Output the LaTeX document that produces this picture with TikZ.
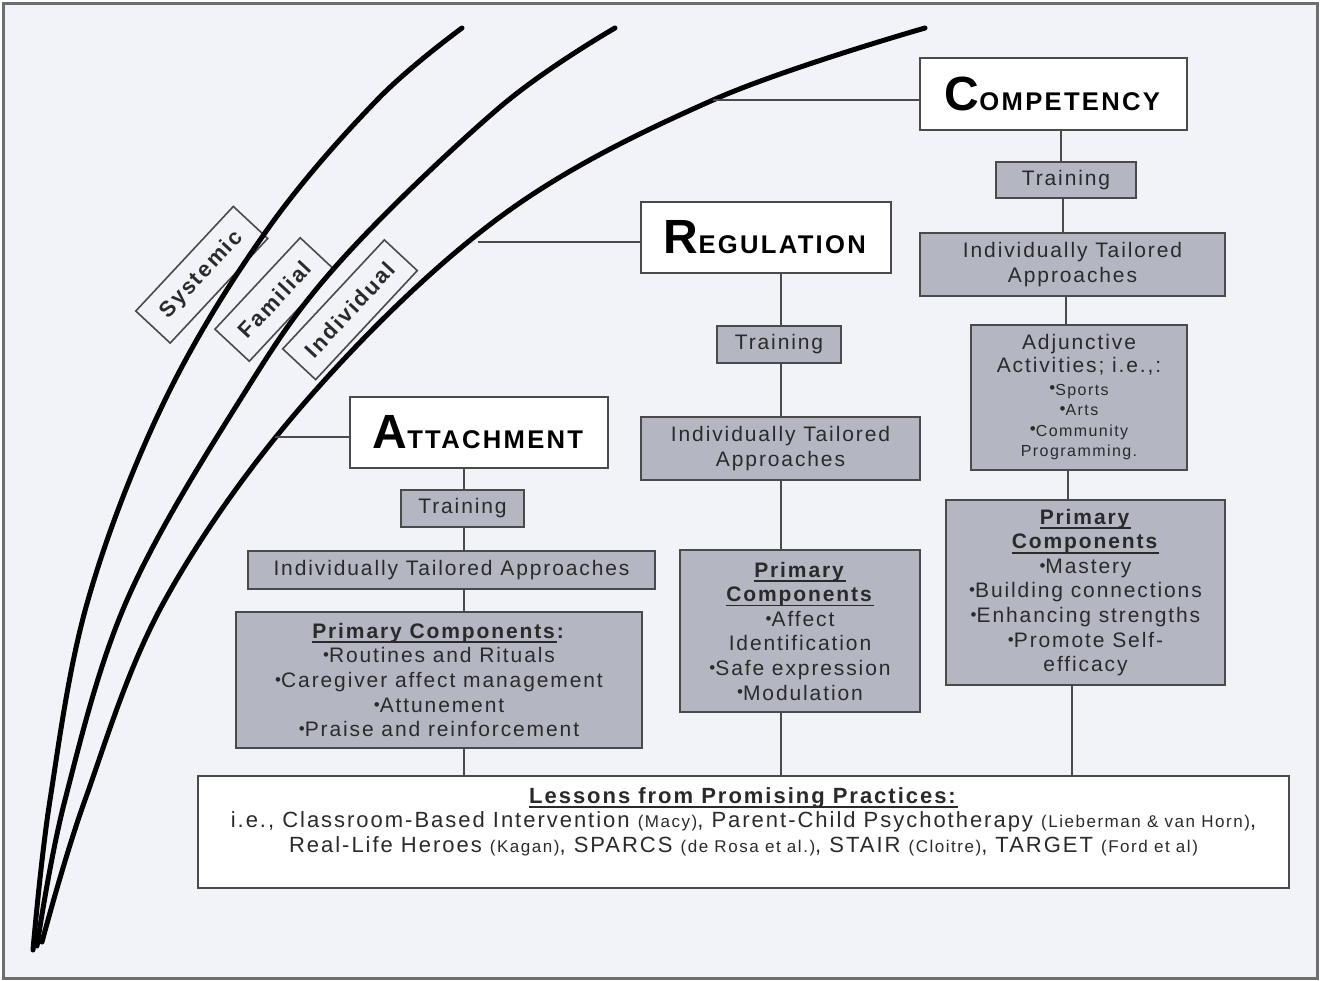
\documentclass[tikz,border=0pt]{standalone}
\usepackage{fontspec}
\setmainfont{Liberation Sans}[LetterSpace=9]
\definecolor{bg}{HTML}{F2F3F8}
\definecolor{boxg}{HTML}{B4B7C1}
\definecolor{bord}{HTML}{4A4A4A}
\definecolor{txt}{HTML}{2A2A2A}
\definecolor{framec}{HTML}{6E6E6E}
\newsavebox\ulbox
\newcommand\ul[1]{\sbox\ulbox{#1}\rlap{\rule[-2.4pt]{\wd\ulbox}{0.9pt}}\usebox\ulbox}
\newcommand\bul{\raisebox{0.1em}{\fontsize{8.5pt}{8.5pt}\selectfont •}}
\newcommand\ttl[2]{\textbf{\fontsize{24pt}{24pt}\selectfont #1\fontsize{12.8pt}{12.8pt}\selectfont #2}}
\newcommand\sm[1]{{\fontsize{8.5pt}{9pt}\selectfont #1}}
\newcommand\smf{\fontsize{8pt}{10.5pt}\selectfont}
\begin{document}
\begin{tikzpicture}[x=0.5pt,y=-0.5pt,
 box/.style={draw=bord,line width=1pt,inner sep=0pt,align=center,text=txt,font=\fontsize{10.5pt}{12.3pt}\selectfont},
 gbox/.style={box,fill=boxg},
 wbox/.style={box,fill=white},
 titlebox/.style={box,fill=white,text=black},
 tagbox/.style={draw=bord,line width=0.8pt,fill=bg,rotate=47,inner sep=0pt,text=txt,font=\bfseries\fontsize{11pt}{13pt}\selectfont},
 conn/.style={draw=bord,line width=1pt},
 arcline/.style={line width=2.5pt,black,line cap=round}]

\fill[white] (0,0) rectangle (1320,980);
\useasboundingbox (0,0) rectangle (1320,980);
\draw[framec,line width=1.5pt,fill=bg] (3,3) rectangle (1317,978);

% level tags
\node[tagbox,minimum width=71.5pt,minimum height=23.5pt] (sys) at (201.75,274.75) {Systemic};
\node[tagbox,minimum width=62.5pt,minimum height=23.5pt] (fam) at (274.75,299.5) {Familial};
\node[tagbox,minimum width=74.5pt,minimum height=22.5pt] (ind) at (350,309.75) {Individual};

% arcs
\draw[arcline] plot[smooth,tension=0.6] coordinates {(33,950) (50,800) (88,600) (165,400) (267,230) (377,100) (462,28)};
\draw[arcline] plot[smooth,tension=0.6] coordinates {(37,946) (65,800) (127,600) (240,400) (337,265) (500,107) (615,28)};
\draw[arcline] plot[smooth,tension=0.6] coordinates {(42,942) (85,800) (165,600) (307,400) (500,217) (713,100) (925,28)};

% competency column
\node[titlebox,minimum width=133.5pt,minimum height=36pt] (comp) at (1053.5,94) {\ttl{C}{OMPETENCY}};
\node[gbox,minimum width=70pt,minimum height=18pt] (ctr) at (1066,180) {Training};
\node[gbox,minimum width=152.5pt,minimum height=31.5pt] (cita) at (1072.5,264.5) {Individually Tailored\\Approaches};
\node[gbox,minimum width=108pt,minimum height=72.5pt] (cadj) at (1079,397.5) {Adjunctive\\[-1pt]Activities; i.e.,:\\[-1pt]\smf\bul Sports\\[-2pt]\smf\bul Arts\\[-2pt]\smf\bul Community\\[-2pt]\smf Programming.};
\node[gbox,minimum width=139.5pt,minimum height=92.5pt] (cpc) at (1085.5,592.5) {\ul{\textbf{Primary}}\\\ul{\textbf{Components}}\\\bul Mastery\\\bul Building connections\\\bul Enhancing strengths\\\bul Promote Self-\\efficacy};

% regulation column
\node[titlebox,minimum width=125pt,minimum height=35.5pt] (reg) at (766,237.5) {\ttl{R}{EGULATION}};
\node[gbox,minimum width=62pt,minimum height=18.5pt] (rtr) at (779,344.5) {Training};
\node[gbox,minimum width=139.5pt,minimum height=31.5pt] (rita) at (780.5,448.5) {Individually Tailored\\Approaches};
\node[gbox,minimum width=120pt,minimum height=81pt] (rpc) at (800,631) {\ul{\textbf{Primary}}\\\ul{\textbf{Components}}\\\bul Affect\\Identification\\\bul Safe expression\\\bul Modulation};

% attachment column
\node[titlebox,minimum width=129pt,minimum height=35.5pt] (att) at (479,432.5) {\ttl{A}{TTACHMENT}};
\node[gbox,minimum width=61.5pt,minimum height=18.5pt] (atr) at (462.5,508.5) {Training};
\node[gbox,minimum width=203.5pt,minimum height=19pt] (aita) at (451.5,570) {Individually Tailored Approaches};
\node[gbox,minimum width=203pt,minimum height=68pt] (apc) at (439,680) {\ul{\textbf{Primary Components}}\textbf{:}\\\bul Routines and Rituals\\\bul Caregiver affect management\\\bul Attunement\\\bul Praise and reinforcement};

% lessons
\node[wbox,minimum width=545.5pt,minimum height=56pt] (less) at (743.5,832) {};
\node[align=center,inner sep=0pt,text=txt,font=\fontsize{11pt}{12.3pt}\selectfont] (lesst) at (743.5,821.5) {\ul{\textbf{Lessons from Promising Practices:}}\\
i.e., Classroom-Based Intervention \sm{(Macy)}, Parent-Child Psychotherapy \sm{(Lieberman \& van Horn)},\\
Real-Life Heroes \sm{(Kagan)}, SPARCS \sm{(de Rosa et al.)}, STAIR \sm{(Cloitre)}, TARGET \sm{(Ford et al)}};

% connectors from arcs
\coordinate (i1) at (713,100);
\coordinate (i2) at (478,242);
\coordinate (i3) at (275,437);
\draw[conn] (i1) -- (i1 -| comp.west);
\draw[conn] (i2) -- (i2 -| reg.west);
\draw[conn] (i3) -- (i3 -| att.west);

% vertical connectors
\coordinate (cx1) at (1061,0);
\coordinate (cx2) at (1063,0);
\coordinate (cx3) at (1066,0);
\coordinate (cx4) at (1068,0);
\coordinate (cx5) at (1072,0);
\coordinate (rx) at (781,0);
\coordinate (ax) at (464,0);
\draw[conn] (comp.south -| cx1) -- (ctr.north -| cx1);
\draw[conn] (ctr.south -| cx2) -- (cita.north -| cx2);
\draw[conn] (cita.south -| cx3) -- (cadj.north -| cx3);
\draw[conn] (cadj.south -| cx4) -- (cpc.north -| cx4);
\draw[conn] (cpc.south -| cx5) -- (less.north -| cx5);
\draw[conn] (reg.south -| rx) -- (rtr.north -| rx);
\draw[conn] (rtr.south -| rx) -- (rita.north -| rx);
\draw[conn] (rita.south -| rx) -- (rpc.north -| rx);
\draw[conn] (rpc.south -| rx) -- (less.north -| rx);
\draw[conn] (att.south -| ax) -- (atr.north -| ax);
\draw[conn] (atr.south -| ax) -- (aita.north -| ax);
\draw[conn] (aita.south -| ax) -- (apc.north -| ax);
\draw[conn] (apc.south -| ax) -- (less.north -| ax);
\end{tikzpicture}
\end{document}
